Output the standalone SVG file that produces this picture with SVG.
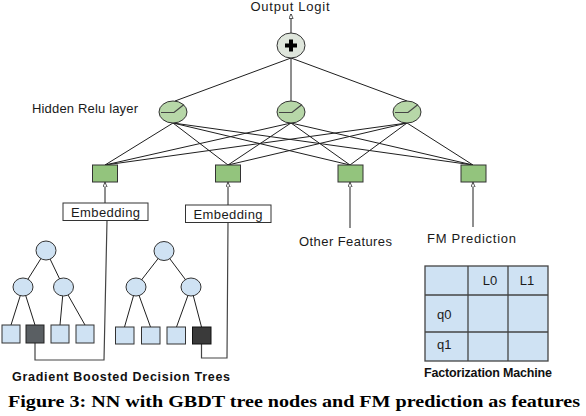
<svg xmlns="http://www.w3.org/2000/svg" width="586" height="416" viewBox="0 0 586 416">
<defs>
<marker id="arr" viewBox="0 0 6 6" refX="5.5" refY="3" markerWidth="5" markerHeight="5" orient="auto" markerUnits="userSpaceOnUse">
<path d="M0,0.5 L6,3 L0,5.5 Z" fill="#ffffff" stroke="#222" stroke-width="0.9"/>
</marker>
<style>
.lbl{font-family:"Liberation Sans",Arial,sans-serif;font-size:13px;fill:#1a1a1a}
.sm{font-family:"Liberation Sans",Arial,sans-serif;font-size:13px;fill:#1a1a1a}
.bold{font-family:"Liberation Sans",Arial,sans-serif;font-size:12.5px;font-weight:bold;fill:#111}
.cap{font-family:"Liberation Serif","Times New Roman",serif;font-size:17.5px;font-weight:bold;fill:#000}
.ln{stroke:#1f1f1f;stroke-width:1;fill:none}
.gl{stroke:#444;stroke-width:1.2;fill:none}
.hid{fill:#b7d7a8;stroke:#333;stroke-width:1}
.sq{fill:#93c47d;stroke:#333;stroke-width:1}
.tn{fill:#cfe2f3;stroke:#333;stroke-width:1}
.box{fill:#ffffff;stroke:#333;stroke-width:1}
.fm{fill:#cfe2f3;stroke:#444;stroke-width:1.3}
</style>
</defs>
<rect width="586" height="416" fill="#ffffff"/>

<g id="connectors">
<line class="ln" x1="291" y1="33" x2="291" y2="14" marker-end="url(#arr)"/>
<line class="ln" x1="291" y1="58" x2="175" y2="101"/>
<line class="ln" x1="291" y1="58" x2="291" y2="101"/>
<line class="ln" x1="291" y1="58" x2="407" y2="101"/>
<g class="ln">
<line x1="173" y1="123" x2="105" y2="165"/>
<line x1="173" y1="123" x2="228" y2="165"/>
<line x1="173" y1="123" x2="350" y2="165"/>
<line x1="173" y1="123" x2="473" y2="165"/>
<line x1="291" y1="123" x2="105" y2="165"/>
<line x1="291" y1="123" x2="228" y2="165"/>
<line x1="291" y1="123" x2="350" y2="165"/>
<line x1="291" y1="123" x2="473" y2="165"/>
<line x1="407" y1="123" x2="105" y2="165"/>
<line x1="407" y1="123" x2="228" y2="165"/>
<line x1="407" y1="123" x2="350" y2="165"/>
<line x1="407" y1="123" x2="473" y2="165"/>
</g>
<line class="ln" x1="105" y1="203" x2="105" y2="182.5" marker-end="url(#arr)"/>
<line class="ln" x1="228" y1="205" x2="228" y2="182.5" marker-end="url(#arr)"/>
<line class="ln" x1="350" y1="228" x2="350" y2="182.5" marker-end="url(#arr)"/>
<line class="ln" x1="473" y1="227" x2="473" y2="182.5" marker-end="url(#arr)"/>
<polyline class="gl" points="107,220.5 104,360 35,360 35,343"/>
<polyline class="gl" points="228,222 227,358 201.5,358 201.5,344"/>
<g class="ln">
<line x1="46" y1="250.5" x2="23" y2="287"/>
<line x1="46" y1="250.5" x2="63.5" y2="287"/>
<line x1="23" y1="287" x2="11" y2="325"/>
<line x1="23" y1="287" x2="35" y2="325"/>
<line x1="63.5" y1="287" x2="60" y2="325"/>
<line x1="63.5" y1="287" x2="85" y2="325"/>
</g>
<g class="ln">
<line x1="164" y1="251" x2="136" y2="287"/>
<line x1="164" y1="251" x2="191" y2="287"/>
<line x1="136" y1="287" x2="124.5" y2="327"/>
<line x1="136" y1="287" x2="150.5" y2="327"/>
<line x1="191" y1="287" x2="176.5" y2="327"/>
<line x1="191" y1="287" x2="201.5" y2="327"/>
</g>
</g>

<g id="output-label">
<text class="lbl" x="290" y="11" text-anchor="middle" textLength="79" lengthAdjust="spacing">Output Logit</text>
</g>

<g id="sum-node">
<ellipse cx="291" cy="45.5" rx="14" ry="12.5" fill="#dfe6dc" stroke="#333" stroke-width="1"/>
<path d="M289,39.5 h4 v4 h4 v4 h-4 v4 h-4 v-4 h-4 v-4 h4 Z" fill="#000"/>
</g>

<g id="hidden-label">
<text class="lbl" x="32" y="113" textLength="106" lengthAdjust="spacing">Hidden Relu layer</text>
</g>

<g id="hidden-1">
<ellipse class="hid" cx="173" cy="112" rx="14" ry="11"/>
<polyline class="gl" points="161,112.5 174,112.5 184,104.5"/>
</g>
<g id="hidden-2">
<ellipse class="hid" cx="291" cy="112" rx="14" ry="11"/>
<polyline class="gl" points="279,112.5 292,112.5 302,104.5"/>
</g>
<g id="hidden-3">
<ellipse class="hid" cx="407" cy="112" rx="14" ry="11"/>
<polyline class="gl" points="395,112.5 408,112.5 418,104.5"/>
</g>

<g id="input-1"><rect class="sq" x="92.5" y="165" width="25" height="17"/></g>
<g id="input-2"><rect class="sq" x="215.5" y="165" width="25" height="17"/></g>
<g id="input-3"><rect class="sq" x="338" y="165" width="25" height="17"/></g>
<g id="input-4"><rect class="sq" x="461" y="165" width="25" height="17"/></g>

<g id="embedding-1">
<rect class="box" x="63" y="203" width="85" height="17.5"/>
<text class="lbl" x="105.5" y="216.5" text-anchor="middle" textLength="69" lengthAdjust="spacing">Embedding</text>
</g>
<g id="embedding-2">
<rect class="box" x="185.5" y="205" width="85.5" height="17.5"/>
<text class="lbl" x="228" y="218.5" text-anchor="middle" textLength="69" lengthAdjust="spacing">Embedding</text>
</g>

<g id="other-features">
<text class="lbl" x="299" y="246" textLength="93" lengthAdjust="spacing">Other Features</text>
</g>
<g id="fm-prediction">
<text class="lbl" x="427" y="243" textLength="89" lengthAdjust="spacing">FM Prediction</text>
</g>

<g id="tree-1">
<ellipse class="tn" cx="46" cy="250.5" rx="10" ry="9.5"/>
<ellipse class="tn" cx="23" cy="287" rx="10" ry="9"/>
<ellipse class="tn" cx="63.5" cy="287" rx="10" ry="9"/>
<rect class="tn" x="2" y="325" width="18" height="18"/>
<rect x="26" y="325" width="18" height="18" fill="#5a5f63" stroke="#222" stroke-width="1"/>
<rect class="tn" x="51" y="325" width="18" height="18"/>
<rect class="tn" x="76" y="325" width="18" height="18"/>
</g>

<g id="tree-2">
<ellipse class="tn" cx="164" cy="251" rx="10" ry="9.5"/>
<ellipse class="tn" cx="136" cy="287" rx="10" ry="9"/>
<ellipse class="tn" cx="191" cy="287" rx="10" ry="9"/>
<rect class="tn" x="115.5" y="327" width="18.5" height="17"/>
<rect class="tn" x="141.5" y="327" width="18.5" height="17"/>
<rect class="tn" x="167" y="327" width="18.5" height="17"/>
<rect x="192.5" y="327" width="18.5" height="17" fill="#3a3a3a" stroke="#111" stroke-width="1"/>
</g>

<g id="gbdt-label">
<text class="bold" x="12" y="381" textLength="218" lengthAdjust="spacing">Gradient Boosted Decision Trees</text>
</g>

<g id="fm-table">
<rect class="fm" x="425" y="266" width="123" height="95"/>
<line class="fm" x1="468" y1="266" x2="468" y2="361"/>
<line class="fm" x1="508" y1="266" x2="508" y2="361"/>
<line class="fm" x1="425" y1="295" x2="548" y2="295"/>
<line class="fm" x1="425" y1="332" x2="548" y2="332"/>
<text class="sm" x="490" y="285" text-anchor="middle">L0</text>
<text class="sm" x="527" y="285" text-anchor="middle">L1</text>
<text class="sm" x="437" y="319">q0</text>
<text class="sm" x="437" y="349">q1</text>
</g>

<g id="fm-label">
<text class="bold" x="424" y="377" textLength="128" lengthAdjust="spacing">Factorization Machine</text>
</g>

<g id="caption">
<text class="cap" x="8" y="407" textLength="572" lengthAdjust="spacingAndGlyphs">Figure 3: NN with GBDT tree nodes and FM prediction as features</text>
</g>
</svg>
